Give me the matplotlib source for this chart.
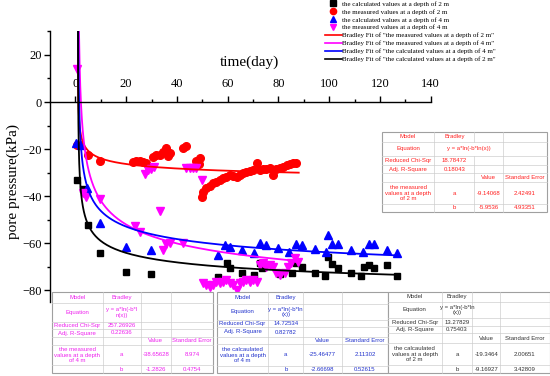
import numpy as np
import matplotlib.pyplot as plt
from matplotlib.lines import Line2D
from matplotlib.patches import Rectangle
from matplotlib.ticker import MultipleLocator, FixedLocator

plt.rcParams['font.family'] = 'Liberation Serif'

# calculated values, depth 2 m (black squares)
calc2_x = [0.6, 3.0, 4.8, 9.8, 19.8, 29.8, 56.2, 59.9, 60.8, 65.8, 70.3, 72.7, 73.7, 80.5, 85.5,
           87.1, 89.1, 94.4, 98.3, 99.4, 101.3, 103.6, 108.4, 112.5, 113.7, 115.8, 117.6, 122.6, 126.8]
calc2_y = [-33.1, -37.1, -52.3, -64.3, -72.2, -73.1, -74.5, -68.5, -70.4, -72.5, -73.5, -68.3, -70.4, -73.0, -72.5,
           -68.5, -70.0, -72.5, -73.9, -66.0, -69.0, -70.4, -72.5, -73.9, -69.9, -69.2, -70.6, -69.2, -73.9]

# measured values, depth 2 m (red circles)
meas2_x = [0.6, 4.9, 9.8, 22.7, 24.0, 25.3, 26.6, 28.0, 29.0, 30.6, 31.9, 33.2, 34.5, 35.9, 36.6, 37.2,
           42.4, 43.7, 47.7, 48.3, 48.8, 49.2, 49.7, 50.3, 51.6, 52.9, 54.2, 55.6, 56.9, 58.2, 59.5, 60.8,
           62.1, 63.5, 64.8, 66.1, 67.4, 68.7, 70.0, 71.4, 72.7, 74.0, 75.3, 76.6, 77.9, 79.2, 80.5, 81.9,
           83.2, 84.5, 85.8, 87.1]
meas2_y = [-18.3, -22.5, -24.9, -25.4, -25.0, -25.0, -25.5, -26.0, -27.6, -23.2, -22.5, -22.5, -21.1, -19.7, -22.9, -21.8,
           -19.4, -18.7, -24.9, -25.4, -26.5, -23.8, -40.2, -38.1, -36.7, -35.7, -34.5, -33.8, -33.1, -32.4, -31.7, -31.0,
           -31.4, -31.7, -31.0, -30.3, -29.6, -29.2, -28.9, -26.0, -28.9, -28.6, -28.3, -28.1, -31.0, -28.6, -28.1, -27.5,
           -26.8, -26.3, -25.8, -26.1]

# calculated values, depth 4 m (blue triangles)
calc4_x = [0.4, 2.3, 4.7, 9.8, 19.8, 29.8, 56.2, 58.9, 60.8, 65.8, 70.3, 72.7, 75.0, 79.9, 84.2, 87.1,
           89.1, 94.4, 98.6, 99.4, 101.3, 103.6, 108.4, 113.4, 115.7, 117.6, 122.6, 126.8]
calc4_y = [-17.3, -18.3, -36.7, -51.5, -61.5, -62.9, -65.0, -60.7, -61.5, -62.9, -64.0, -60.0, -60.7, -62.2, -63.6, -60.3,
           -60.7, -62.6, -63.6, -56.5, -60.5, -60.5, -62.9, -63.6, -60.5, -60.5, -62.9, -64.0]

# measured values, depth 4 m (magenta triangles)
meas4_x = [0.6, 3.0, 4.3, 9.8, 23.4, 25.3, 27.6, 28.6, 29.8, 31.0, 33.3, 34.5, 35.9, 37.2, 42.4,
           43.7, 45.0, 46.3, 47.6, 49.7, 50.3, 51.6, 52.9, 54.2, 55.6, 56.9, 58.2, 59.5, 60.8, 62.1,
           63.5, 64.8, 66.1, 67.4, 68.7, 70.0, 71.4, 72.7, 74.0, 75.3, 76.6, 77.9, 79.2, 80.5, 82.5,
           83.8, 85.1, 86.5, 87.8]
meas4_y = [13.9, -38.8, -40.2, -41.2, -52.5, -55.3, -30.5, -29.0, -28.5, -27.5, -46.3, -63.0, -60.5, -60.0, -60.0,
           -28.2, -28.2, -28.2, -28.2, -33.1, -77.0, -77.7, -78.4, -77.7, -76.3, -77.0, -76.3, -75.6, -77.0, -77.7,
           -79.9, -77.0, -76.3, -75.6, -76.3, -75.6, -76.3, -69.2, -68.5, -69.9, -69.2, -69.9, -72.8, -73.5, -72.8,
           -69.9, -68.5, -66.4, -67.8]

# Bradley fits y = a*ln(-b*ln(x)) : (a, b, last day)
fit_meas2 = (-9.14068, -5.9536, 88)
fit_meas4 = (-38.65628, -1.2826, 88)
fit_calc4 = (-25.46477, -2.66698, 127)
fit_calc2 = (-19.3464, -9.16927, 127)

labels = ['the calculated values at a depth of 2 m',
          'the measured values at a depth of 2 m',
          'the calculated values at a depth of 4 m',
          'the measured values at a depth of 4 m',
          'Bradley Fit of "the measured values at a depth of 2 m"',
          'Bradley Fit of "the measured values at a depth of 4 m"',
          'Bradley Fit of "the calculated values at a depth of 4 m"',
          'Bradley Fit of "the calculated values at a depth of 2 m"']

# result tables
tab_meas2 = [['Model', 'Bradley', '', ''],
             ['Equation', 'y = a*ln(-b*ln(x))', '', ''],
             ['Reduced Chi-Sqr', '18.78472', '', ''],
             ['Adj. R-Square', '0.18043', '', ''],
             ['', '', 'Value', 'Standard Error'],
             ['the measured\nvalues at a depth\nof 2 m', 'a', '-9.14068', '2.42491'],
             ['', 'b', '-5.9536', '4.93351']]
tab_meas4 = [['Model', 'Bradley', '', ''],
             ['Equation', 'y = a*ln(-b*l\nn(x))', '', ''],
             ['Reduced Chi-Sqr', '257.26926', '', ''],
             ['Adj. R-Square', '0.22636', '', ''],
             ['', '', 'Value', 'Standard Error'],
             ['the measured\nvalues at a depth\nof 4 m', 'a', '-38.65628', '8.974'],
             ['', 'b', '-1.2826', '0.4754']]
tab_calc4 = [['Model', 'Bradley', '', ''],
             ['Equation', 'y = a*ln(-b*ln\n(x))', '', ''],
             ['Reduced Chi-Sqr', '14.72534', '', ''],
             ['Adj. R-Square', '0.82782', '', ''],
             ['', '', 'Value', 'Standard Error'],
             ['the calcaulated\nvalues at a depth\nof 4 m', 'a', '-25.46477', '2.11302'],
             ['', 'b', '-2.66698', '0.52615']]
tab_calc2 = [['Model', 'Bradley', '', ''],
             ['Equation', 'y = a*ln(-b*ln\n(x))', '', ''],
             ['Reduced Chi-Sqr', '13.27829', '', ''],
             ['Adj. R-Square', '0.75403', '', ''],
             ['', '', 'Value', 'Standard Error'],
             ['the calcaulated\nvalues at a depth\nof 2 m', 'a', '-19.3464', '2.00651'],
             ['', 'b', '-9.16927', '3.42809']]


def bradley(p):
    a, b, xend = p
    xf = 1 + np.geomspace(1e-6, xend - 1, 600)
    return xf, a * np.log(-b * np.log(xf))


def draw_table(ov, cols, rows, cells, color, merge=()):
    x0, x1 = cols[0], cols[-1]
    y0, y1 = rows[0], rows[-1]
    ov.add_patch(Rectangle((x0, y0), x1 - x0, y1 - y0, facecolor='white',
                           edgecolor='#a0a0a0', lw=0.8))
    for y in rows[1:-1]:
        ov.plot([x0, x1], [y, y], color='#cfcfcf', lw=0.5)
    for i in range(len(rows) - 1):
        for j in range(1, len(cols) - 1):
            if (i, j) in merge:
                continue
            ov.plot([cols[j], cols[j]], [rows[i], rows[i + 1]], color='#cfcfcf', lw=0.5)
        for j, txt in enumerate(cells[i]):
            if not txt:
                continue
            xa, xb = cols[j], cols[j + 1]
            if (i, j + 1) in merge:
                xb = cols[j + 2]
            ov.text((xa + xb) / 2, (rows[i] + rows[i + 1]) / 2, txt, ha='center', va='center',
                    fontsize=4.3, color=color, family='Liberation Sans', linespacing=1.1)


fig = plt.figure(figsize=(5.5, 3.76), dpi=100)
ax = fig.add_axes([0.0909, 0.1965, 0.6922, 0.72])

ax.plot(calc2_x, calc2_y, 's', color='black', ms=5, ls='none')
ax.plot(meas2_x, meas2_y, 'o', color='red', ms=5.5, ls='none')
ax.plot(calc4_x, calc4_y, '^', color='blue', ms=6, ls='none')
ax.plot(meas4_x, meas4_y, 'v', color='magenta', ms=6, ls='none')

for p, c in [(fit_meas2, 'red'), (fit_meas4, 'magenta'), (fit_calc4, 'blue'), (fit_calc2, 'black')]:
    xf, yf = bradley(p)
    ax.plot(xf, yf, color=c, lw=1.3)

ax.set_xlim(-10, 140)
ax.set_ylim(-85, 30)
ax.spines['right'].set_visible(False)
ax.spines['bottom'].set_visible(False)
ax.spines['top'].set_position(('data', 0))
ax.xaxis.set_ticks_position('top')
ax.xaxis.set_major_locator(MultipleLocator(20))
ax.xaxis.set_minor_locator(FixedLocator([10, 30, 50, 70, 90, 110, 130]))
ax.yaxis.set_major_locator(MultipleLocator(20))
ax.yaxis.set_minor_locator(MultipleLocator(10))
ax.tick_params(which='major', direction='out', length=4, width=1, labelsize=9)
ax.tick_params(which='minor', direction='out', length=2.5, width=1)
ax.tick_params(axis='x', pad=5)
ax.tick_params(axis='y', pad=2)
for s in ['left', 'top']:
    ax.spines[s].set_linewidth(1)

fig.text(0.4527, 0.834, 'time(day)', fontsize=11, ha='center', va='center')
fig.text(0.024, 0.516, 'pore pressure(kPa)', fontsize=11, rotation=90, ha='center', va='center')

handles = [Line2D([], [], ls='none', marker='s', color='black', ms=4),
           Line2D([], [], ls='none', marker='o', color='red', ms=4.5),
           Line2D([], [], ls='none', marker='^', color='blue', ms=4.5),
           Line2D([], [], ls='none', marker='v', color='magenta', ms=4.5),
           Line2D([], [], color='red', lw=1.2),
           Line2D([], [], color='magenta', lw=1.2),
           Line2D([], [], color='blue', lw=1.2),
           Line2D([], [], color='black', lw=1.2)]
fig.legend(handles, labels, loc='upper left', bbox_to_anchor=(0.591, 0.998), frameon=False,
           fontsize=5, handlelength=2.4, handletextpad=0.1, labelspacing=0.3, borderpad=0,
           borderaxespad=0)

ov = fig.add_axes([0, 0, 1, 1])
ov.set_xlim(0, 550)
ov.set_ylim(376, 0)
ov.axis('off')

draw_table(ov, [381.7, 434.3, 474.3, 502.7, 546.7],
           [131.7, 141.7, 156, 165, 173.3, 182.3, 204, 211.7], tab_meas2, '#ff2020', merge={(1, 2)})
draw_table(ov, [51.7, 102.7, 140.7, 170.7, 213.3],
           [291.7, 303.3, 321.7, 329.3, 336.7, 345, 365, 373.3], tab_meas4, '#ee22ee')
draw_table(ov, [216.7, 268.3, 303.3, 341.7, 388.3],
           [291.7, 304, 320, 327.3, 336.7, 344, 366, 373.3], tab_calc4, '#2233cc')
draw_table(ov, [387.7, 441.7, 472.3, 500, 549.5],
           [291.7, 301.7, 318.3, 326, 333.3, 343.3, 365, 373.3], tab_calc2, '#333333')

fig.savefig('out.png', dpi=100)
